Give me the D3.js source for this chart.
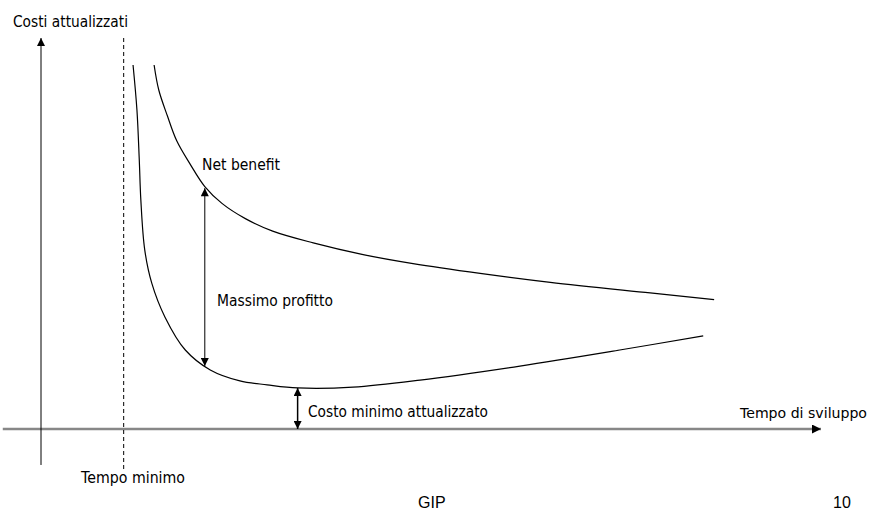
<!DOCTYPE html>
<html>
<head>
<meta charset="utf-8">
<script src="https://cdn.jsdelivr.net/npm/d3@7"></script>
<style>
  html, body { margin: 0; padding: 0; background: #fff; }
  svg text { font-family: Tahoma, "DejaVu Sans", sans-serif; font-size: 15px; fill: #000; }
  svg text.small { font-size: 14px; }
  svg text.footer { font-family: Arial, "Liberation Sans", sans-serif; font-size: 16px; }
</style>
</head>
<body>
<svg id="chart" width="871" height="518"></svg>
<script>
// ---- data (abstract units: x = tempo di sviluppo, y = costi attualizzati) ----
const netBenefitX = [14.5, 15.1, 16.2, 17.4, 19.1, 21.0, 23.2, 26.2, 29.7, 34.9, 41.3, 47.7, 56.3, 65.3, 78.1, 86.3];
const netBenefitY = [93.1, 86.7, 80.1, 73.7, 67.8, 62.0, 57.7, 53.8, 50.6, 47.6, 44.6, 42.3, 39.8, 37.5, 34.8, 33.1];
const costX = [11.8, 12.3, 12.6, 12.8, 13.3, 14.2, 15.9, 18.5, 21.7, 25.5, 29.0, 32.9, 40.0, 48.6, 61.4, 74.2, 84.9];
const costY = [93.1, 81.6, 68.8, 58.6, 45.8, 37.3, 28.6, 20.2, 15.1, 12.3, 11.3, 10.5, 10.7, 12.5, 16.1, 20.2, 23.8];
const tempoMinimo = 10.6;
const profittoX = 21.0, profittoTop = 61.6, profittoBottom = 16.1;
const costoMinX = 32.9, costoMinY = 10.5;
const labels = {
  yAxis: "Costi attualizzati",
  xAxis: "Tempo di sviluppo",
  tempoMin: "Tempo minimo",
  net: "Net benefit",
  profitto: "Massimo profitto",
  costoMin: "Costo minimo attualizzato",
  footerLeft: "GIP",
  footerRight: "10"
};

const svg = d3.select("#chart");
const x = d3.scaleLinear().domain([0, 100]).range([41, 821]);
const y = d3.scaleLinear().domain([0, 100]).range([429, 38]);

const defs = svg.append("defs");
defs.append("marker").attr("id", "arr")
  .attr("viewBox", "0 0 10 10").attr("refX", 10).attr("refY", 5)
  .attr("markerUnits", "userSpaceOnUse")
  .attr("markerWidth", 9).attr("markerHeight", 8)
  .attr("orient", "auto-start-reverse")
  .append("path").attr("d", "M0,0 L10,5 L0,10 Z").attr("fill", "#000");
defs.append("marker").attr("id", "arrBig")
  .attr("viewBox", "0 0 10 10").attr("refX", 10).attr("refY", 5)
  .attr("markerUnits", "userSpaceOnUse")
  .attr("markerWidth", 13).attr("markerHeight", 9)
  .attr("orient", "auto")
  .append("path").attr("d", "M0,0 L10,5 L0,10 Z").attr("fill", "#000");

// x axis (grey)
svg.append("line")
  .attr("x1", x(-4.9)).attr("y1", y(0)).attr("x2", x(100)).attr("y2", y(0))
  .attr("stroke", "#878787").attr("stroke-width", 2.5)
  .attr("marker-end", "url(#arrBig)");
// y axis
svg.append("line")
  .attr("x1", x(0)).attr("y1", y(-9.2)).attr("x2", x(0)).attr("y2", y(100))
  .attr("stroke", "#000").attr("stroke-width", 1)
  .attr("marker-end", "url(#arr)");
// tempo minimo dashed
svg.append("line")
  .attr("x1", x(tempoMinimo)).attr("y1", y(100)).attr("x2", x(tempoMinimo)).attr("y2", y(-10.5))
  .attr("stroke", "#000").attr("stroke-width", 1).attr("stroke-dasharray", "4,3");

const line = d3.line().x(d => x(d[0])).y(d => y(d[1])).curve(d3.curveCatmullRom.alpha(0.5));
svg.append("path").datum(netBenefitX.map((v, i) => [v, netBenefitY[i]]))
  .attr("d", line).attr("fill", "none").attr("stroke", "#000").attr("stroke-width", 1.2);
svg.append("path").datum(costX.map((v, i) => [v, costY[i]]))
  .attr("d", line).attr("fill", "none").attr("stroke", "#000").attr("stroke-width", 1.2);

// double arrows
svg.append("line")
  .attr("x1", x(profittoX)).attr("y1", y(profittoTop)).attr("x2", x(profittoX)).attr("y2", y(profittoBottom))
  .attr("stroke", "#000").attr("stroke-width", 1)
  .attr("marker-start", "url(#arr)").attr("marker-end", "url(#arr)");
svg.append("line")
  .attr("x1", x(costoMinX)).attr("y1", y(costoMinY)).attr("x2", x(costoMinX)).attr("y2", y(0))
  .attr("stroke", "#000").attr("stroke-width", 1.5)
  .attr("marker-start", "url(#arr)").attr("marker-end", "url(#arr)");

function label(t, px, py, w, cls) {
  const el = svg.append("text").attr("x", px).attr("y", py).text(t);
  if (cls) el.attr("class", cls);
  if (w) el.attr("textLength", w).attr("lengthAdjust", "spacingAndGlyphs");
  return el;
}
label(labels.yAxis, 13, 27, 115);
label(labels.net, 202, 170, 78);
label(labels.profitto, 217, 306, 116);
label(labels.costoMin, 308, 417, 180);
label(labels.xAxis, 740, 418, 127, "small");
label(labels.tempoMin, 81, 483, 104);
label(labels.footerLeft, 418, 508, null, "footer");
label(labels.footerRight, 833, 508, null, "footer");
</script>
</body>
</html>
